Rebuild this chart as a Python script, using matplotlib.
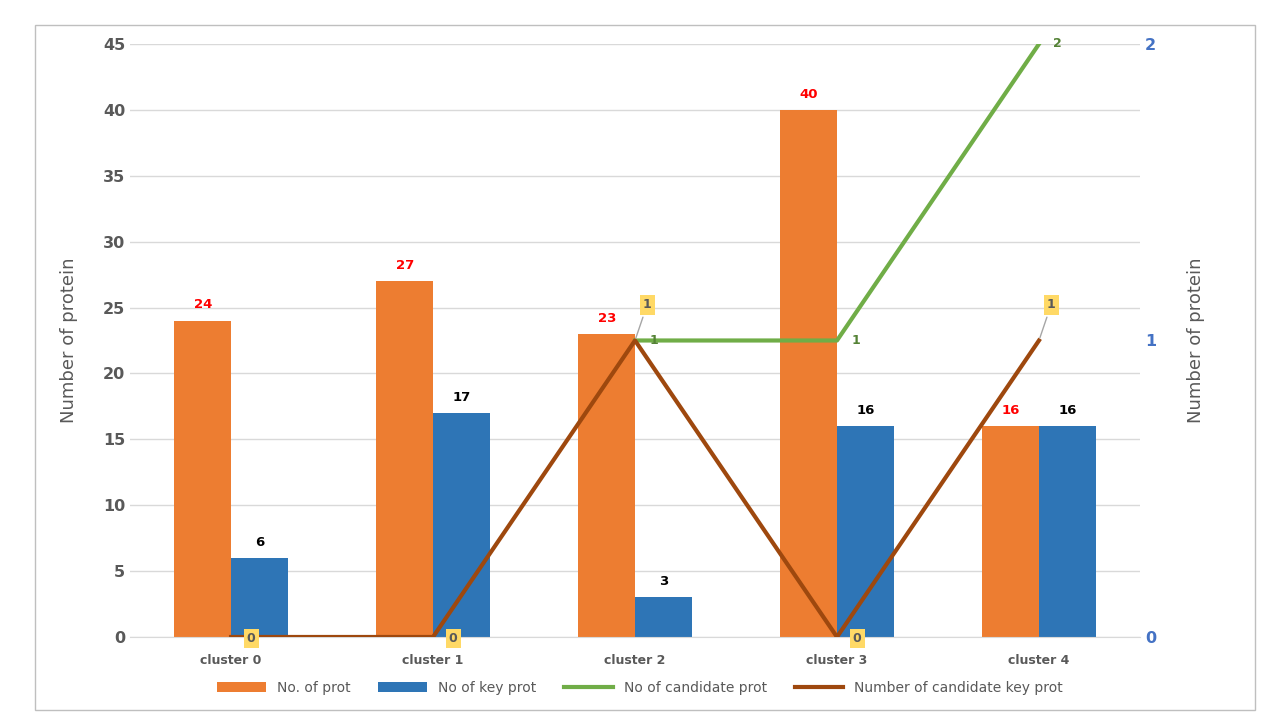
import matplotlib.pyplot as plt
import numpy as np
from matplotlib.patches import Rectangle

clusters = ['cluster 0', 'cluster 1', 'cluster 2', 'cluster 3', 'cluster 4']
n_prot = [24, 27, 23, 40, 16]
n_key = [6, 17, 3, 16, 16]
n_cand = [np.nan, np.nan, 1, 1, 2]
n_cand_key = [0, 0, 1, 0, 1]

orange = '#ED7D31'
blue = '#2E75B6'
green = '#70AD47'
brown = '#9E480E'
grey = '#595959'

fig = plt.figure(figsize=(12.8, 7.2), dpi=100)
fig.patches.append(Rectangle((35 / 1280, 10 / 720), 1220 / 1280, 685 / 720, transform=fig.transFigure,
                             fill=False, edgecolor='#BFBFBF', linewidth=1))
ax = fig.add_axes([0.1016, 0.1153, 0.789, 0.8236])
ax2 = ax.twinx()

x = np.arange(len(clusters))
w = 0.28
b1 = ax.bar(x - w / 2, n_prot, w, color=orange, label='No. of prot', zorder=2)
b2 = ax.bar(x + w / 2, n_key, w, color=blue, label='No of key prot', zorder=2)
for xi, v in zip(x, n_prot):
    ax.text(xi - w / 2, v + 0.7, str(v), ha='center', va='bottom', color='red', fontsize=9.5, fontweight='bold')
for xi, v in zip(x, n_key):
    ax.text(xi + w / 2, v + 0.7, str(v), ha='center', va='bottom', color='black', fontsize=9.5, fontweight='bold')

ax.set_xlim(-0.5, 4.5)
ax.set_ylim(0, 45)
ax.set_yticks(range(0, 46, 5))
ax.grid(axis='y', color='#D9D9D9', linewidth=1, zorder=0)
ax.set_axisbelow(True)
ax.set_xticks(x)
ax.set_xticklabels(clusters, fontsize=9, fontweight='bold', color=grey)
ax.tick_params(axis='y', labelsize=11.5, labelcolor=grey, length=0)
for t in ax.get_yticklabels():
    t.set_fontweight('bold')
ax.tick_params(axis='x', length=0, pad=12)
for s in ['top', 'right', 'left']:
    ax.spines[s].set_visible(False)
ax.spines['bottom'].set_color('#D9D9D9')
ax.set_ylabel('Number of protein', fontsize=13, color=grey, family='Liberation Sans Narrow', labelpad=18)

xl = x + 0.0
l1, = ax2.plot(xl, n_cand, color=green, linewidth=3, label='No of candidate prot', zorder=3)
l2, = ax2.plot(xl, n_cand_key, color=brown, linewidth=3, label='Number of candidate key prot', zorder=3)
ax2.set_ylim(0, 2)
ax2.set_yticks([0, 1, 2])
ax2.tick_params(axis='y', labelsize=11.5, labelcolor='#4472C4', length=0)
for t in ax2.get_yticklabels():
    t.set_fontweight('bold')
for s in ax2.spines.values():
    s.set_visible(False)
ax2.set_ylabel('Number of protein', fontsize=13, color=grey, family='Liberation Sans Narrow', labelpad=22)

for xi, v in zip(xl, n_cand):
    if np.isnan(v):
        continue
    ax2.text(xi + 0.07, v, str(int(v)), ha='left', va='center', color='#548235', fontsize=9, fontweight='bold')
box = dict(boxstyle='square,pad=0.25', facecolor='#FFD966', edgecolor='none')
for xi, v in zip(xl, n_cand_key):
    if v == 0:
        ax2.text(xi + 0.1, -0.005, str(v), ha='center', va='center', color=grey, fontsize=9,
                 fontweight='bold', bbox=box, zorder=5)
    else:
        ax2.annotate(str(v), xy=(xi, v), xytext=(xi + 0.06, v + 0.12), ha='center', va='center',
                     color=grey, fontsize=9, fontweight='bold', bbox=box, zorder=5,
                     arrowprops=dict(arrowstyle='-', color='#A6A6A6', lw=1))

fig.legend(handles=[b1, b2, l1, l2], loc='center', bbox_to_anchor=(0.5, 0.045), ncol=4,
           frameon=False, fontsize=10, labelcolor=grey, handlelength=3.5, columnspacing=2)

fig.savefig('out.png')
